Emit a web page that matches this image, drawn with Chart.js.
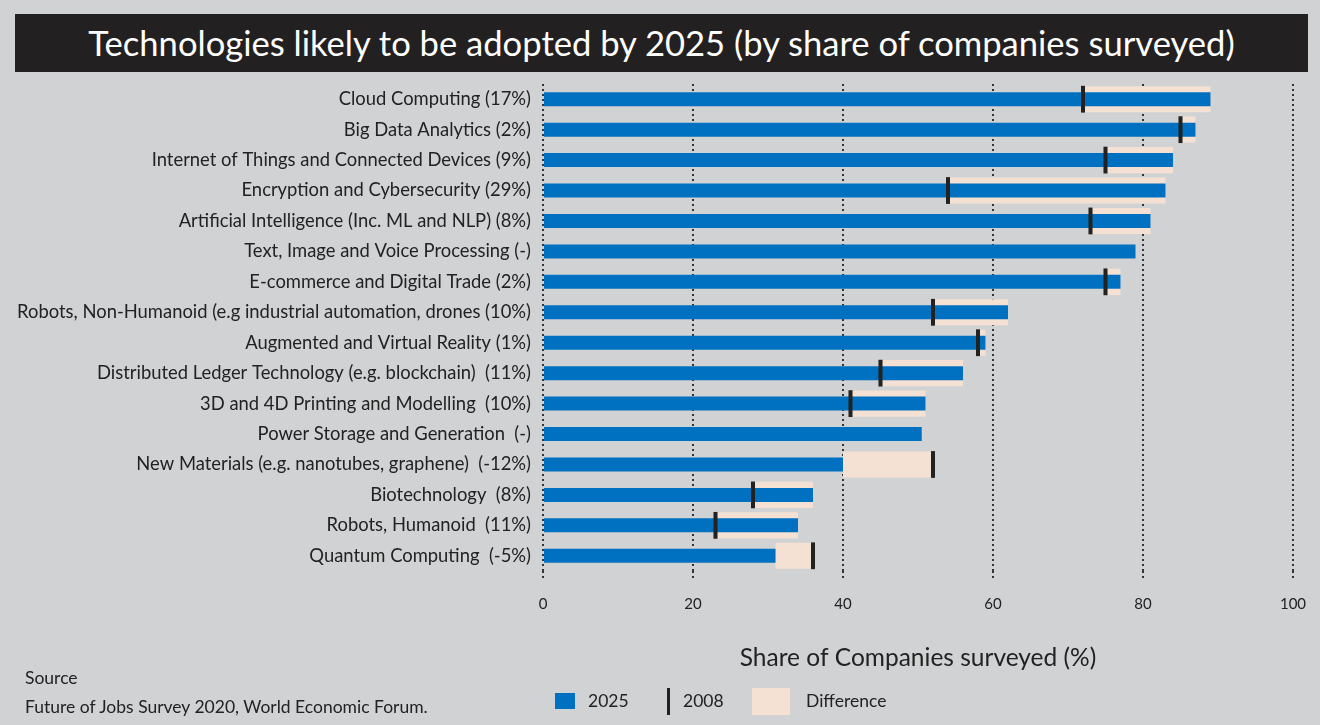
<!DOCTYPE html>
<html>
<head>
<meta charset="utf-8">
<script src="https://cdn.jsdelivr.net/npm/chart.js@4.4.1/dist/chart.umd.min.js"></script>
<style>
  html, body { margin:0; padding:0; width:1320px; height:725px; background:#d1d2d4; overflow:hidden; font-family: Lato, "Open Sans", sans-serif; color:#222; }
  #wrap { position:relative; width:1320px; height:725px; }
  #c { position:absolute; left:0; top:0; }
  #title { position:absolute; left:15px; top:14px; width:1293px; height:58px; background:#222021; color:#fff; font-size:34.6px; line-height:58px; text-align:center; }
  .txt { position:absolute; font-size:17.5px; white-space:nowrap; line-height:20px; }
  .sw { position:absolute; }
</style>
</head>
<body>
<div id="wrap">
  <canvas id="c" width="1320" height="725"></canvas>
  <div id="title">Technologies likely to be adopted by 2025 (by share of companies surveyed)</div>
  <div class="txt" style="left:25px; top:668px;">Source</div>
  <div class="txt" style="left:25px; top:697px;">Future of Jobs Survey 2020, World Economic Forum.</div>
  <div class="sw" style="left:555px; top:693px; width:20px; height:16px; background:#0070c0;"></div>
  <div class="txt" style="left:588px; top:691px;">2025</div>
  <div class="sw" style="left:667px; top:688px; width:3px; height:27px; background:#222;"></div>
  <div class="txt" style="left:683px; top:691px;">2008</div>
  <div class="sw" style="left:752px; top:688px; width:38px; height:27px; background:#f5e1d3;"></div>
  <div class="txt" style="left:806px; top:691px;">Difference</div>
</div>
<script>
const categories = [
  "Cloud Computing (17%)",
  "Big Data Analytics (2%)",
  "Internet of Things and Connected Devices (9%)",
  "Encryption and Cybersecurity (29%)",
  "Artificial Intelligence (Inc. ML and NLP) (8%)",
  "Text, Image and Voice Processing (-)",
  "E-commerce and Digital Trade (2%)",
  "Robots, Non-Humanoid (e.g industrial automation, drones (10%)",
  "Augmented and Virtual Reality (1%)",
  "Distributed Ledger Technology (e.g. blockchain)  (11%)",
  "3D and 4D Printing and Modelling  (10%)",
  "Power Storage and Generation  (-)",
  "New Materials (e.g. nanotubes, graphene)  (-12%)",
  "Biotechnology  (8%)",
  "Robots, Humanoid  (11%)",
  "Quantum Computing  (-5%)"
];
const values2025 = [89, 87, 84, 83, 81, 79, 77, 62, 59, 56, 51, 50.5, 40, 36, 34, 31];
const values2008 = [72, 85, 75, 54, 73, null, 75, 52, 58, 45, 41, null, 52, 28, 23, 36];
const tickValues = [0, 20, 40, 60, 80, 100];

const diffData = values2025.map((v, i) => values2008[i] == null ? null : [Math.min(v, values2008[i]), Math.max(v, values2008[i])]);
const markerHalf = 0.27;
const markerData = values2008.map(v => v == null ? null : [v - markerHalf, v + markerHalf]);

const FONT = "Lato, 'Open Sans', sans-serif";

new Chart(document.getElementById('c'), {
  type: 'bar',
  data: {
    labels: categories,
    datasets: [
      { label: '2008', data: markerData, backgroundColor: '#222222', barPercentage: 0.88, categoryPercentage: 1, grouped: false, order: 0 },
      { label: '2025', data: values2025, backgroundColor: '#0070c0', barPercentage: 0.46, categoryPercentage: 1, grouped: false, order: 1 },
      { label: 'Difference', data: diffData, backgroundColor: '#f5e1d3', barPercentage: 0.86, categoryPercentage: 1, grouped: false, order: 2 }
    ]
  },
  options: {
    indexAxis: 'y',
    responsive: false,
    animation: false,
    layout: { padding: { top: 84, right: 27, bottom: 52, left: 0 } },
    plugins: { legend: { display: false }, tooltip: { enabled: false } },
    scales: {
      x: {
        min: 0, max: 100,
        afterBuildTicks: (s) => { s.ticks = tickValues.map(v => ({ value: v })); },
        afterFit: (s) => { s.height = 102; s.paddingLeft = 0; s.paddingRight = 0; },
        grid: { color: '#333', lineWidth: 2, drawTicks: true, tickLength: 7, tickColor: '#333', tickBorderDash: [2, 3] },
        border: { display: false, dash: [2, 3] },
        ticks: { color: '#222', font: { family: FONT, size: 15 }, padding: 17 },
        title: { display: true, text: 'Share of Companies surveyed (%)', color: '#222', font: { family: FONT, size: 24.5 }, padding: 0 }
      },
      y: {
        afterFit: (s) => { s.width = 543; },
        grid: { display: false, drawTicks: false },
        border: { display: false },
        ticks: { color: '#222', font: { family: FONT, size: 18.4 }, padding: 12, autoSkip: false }
      }
    }
  }
});
</script>
</body>
</html>
